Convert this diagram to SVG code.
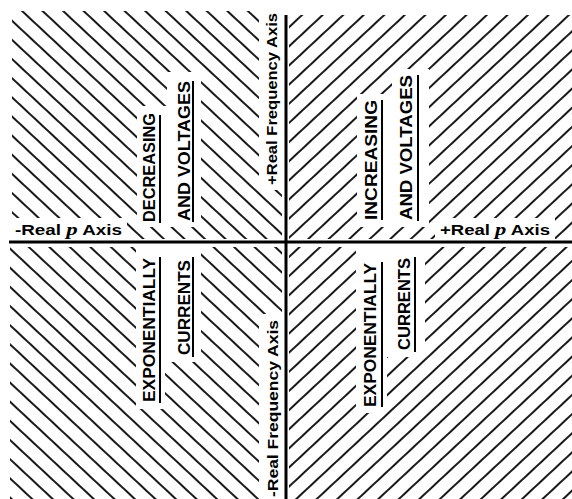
<svg xmlns="http://www.w3.org/2000/svg" width="572" height="499" viewBox="0 0 572 499">
  <style>
    .ko { fill: #ffffff; }
    .axis { stroke: #000; stroke-width: 3; fill: none; }
    .ul { stroke: #000; stroke-width: 2; fill: none; }
    .lbl { font-family: "Liberation Sans", Arial, sans-serif; font-weight: bold; font-size: 16px; fill: #000; }
    .ax { font-family: "Liberation Sans", Arial, sans-serif; font-weight: bold; font-size: 14px; fill: #000; }
    .pv { font-family: "Liberation Serif", "Times New Roman", serif; font-style: italic; font-weight: bold; font-size: 17px; }
  </style>
  <defs>
    <pattern id="hatchBack" patternUnits="userSpaceOnUse" width="10" height="14" patternTransform="rotate(43)">
      <rect x="0" y="6.1" width="10" height="1.8" fill="#000"/>
    </pattern>
    <pattern id="hatchFwd" patternUnits="userSpaceOnUse" width="10" height="14" patternTransform="rotate(-43)">
      <rect x="0" y="6.1" width="10" height="1.8" fill="#000"/>
    </pattern>
  </defs>

  <rect width="572" height="499" fill="#ffffff"/>

  <!-- Quadrant hatching -->
  <g id="quadrant-top-left">
    <rect x="12" y="11" width="270" height="228" fill="url(#hatchBack)"/>
    <rect class="ko" x="137" y="106" width="30" height="121"/>
    <rect class="ko" x="167" y="72" width="34" height="155"/>
    <rect class="ko" x="8" y="218" width="119" height="24"/>
    <rect class="ko" x="259" y="8" width="26" height="182"/>
  </g>
  <g id="quadrant-top-right">
    <rect x="289" y="15" width="283" height="224" fill="url(#hatchFwd)"/>
    <rect class="ko" x="357" y="94" width="35" height="133"/>
    <rect class="ko" x="392" y="69" width="37" height="158"/>
    <rect class="ko" x="435" y="218" width="120" height="24"/>
  </g>
  <g id="quadrant-bottom-left">
    <rect x="10" y="247" width="272" height="252" fill="url(#hatchBack)"/>
    <rect class="ko" x="136" y="245" width="29" height="164"/>
    <rect class="ko" x="165" y="245" width="36" height="117"/>
    <rect class="ko" x="259" y="314" width="26" height="185"/>
  </g>
  <g id="quadrant-bottom-right">
    <rect x="289" y="247" width="283" height="252" fill="url(#hatchFwd)"/>
    <rect class="ko" x="356" y="245" width="31" height="168"/>
    <rect class="ko" x="387" y="245" width="38" height="112"/>
  </g>

  <!-- Axes -->
  <g id="connectors">
    <line class="axis" x1="9" y1="242" x2="572" y2="242"/>
    <line class="axis" x1="286" y1="15" x2="286" y2="499"/>
  </g>

  <!-- Axis labels -->
  <g id="label-neg-real">
    <text class="ax" x="15" y="235" textLength="107" lengthAdjust="spacingAndGlyphs">-Real <tspan class="pv">p</tspan> Axis</text>
  </g>
  <g id="label-pos-real">
    <text class="ax" x="440" y="235" textLength="110" lengthAdjust="spacingAndGlyphs">+Real <tspan class="pv">p</tspan> Axis</text>
  </g>
  <g id="label-pos-freq">
    <text class="ax" transform="translate(277,185) rotate(-90)" textLength="172" lengthAdjust="spacingAndGlyphs">+Real Frequency Axis</text>
  </g>
  <g id="label-neg-freq">
    <text class="ax" transform="translate(278,497) rotate(-90)" textLength="177" lengthAdjust="spacingAndGlyphs">-Real Frequency Axis</text>
  </g>

  <!-- Top-left texts -->
  <g id="tl-decreasing">
    <text class="lbl" transform="translate(155,222) rotate(-90)" textLength="109" lengthAdjust="spacingAndGlyphs">DECREASING</text>
    <line class="ul" x1="160" y1="115" x2="160" y2="223"/>
  </g>
  <g id="tl-and-voltages">
    <text class="lbl" transform="translate(190,221) rotate(-90)" textLength="140" lengthAdjust="spacingAndGlyphs">AND VOLTAGES</text>
    <line class="ul" x1="193" y1="81" x2="193" y2="222"/>
  </g>

  <!-- Top-right texts -->
  <g id="tr-increasing">
    <text class="lbl" transform="translate(377,220) rotate(-90)" textLength="120" lengthAdjust="spacingAndGlyphs">INCREASING</text>
    <line class="ul" x1="382" y1="100" x2="382" y2="220"/>
  </g>
  <g id="tr-and-voltages">
    <text class="lbl" transform="translate(412,220) rotate(-90)" textLength="145" lengthAdjust="spacingAndGlyphs">AND VOLTAGES</text>
    <line class="ul" x1="418" y1="75" x2="418" y2="221"/>
  </g>

  <!-- Bottom-left texts -->
  <g id="bl-exponentially">
    <text class="lbl" transform="translate(155,402) rotate(-90)" textLength="144" lengthAdjust="spacingAndGlyphs">EXPONENTIALLY</text>
    <line class="ul" x1="160" y1="257" x2="160" y2="403"/>
  </g>
  <g id="bl-currents">
    <text class="lbl" transform="translate(190,355) rotate(-90)" textLength="95" lengthAdjust="spacingAndGlyphs">CURRENTS</text>
    <line class="ul" x1="193" y1="257" x2="193" y2="357"/>
  </g>

  <!-- Bottom-right texts -->
  <g id="br-exponentially">
    <text class="lbl" transform="translate(376,407) rotate(-90)" textLength="144" lengthAdjust="spacingAndGlyphs">EXPONENTIALLY</text>
    <line class="ul" x1="382" y1="262" x2="382" y2="407"/>
  </g>
  <g id="br-currents">
    <text class="lbl" transform="translate(410,350) rotate(-90)" textLength="92" lengthAdjust="spacingAndGlyphs">CURRENTS</text>
    <line class="ul" x1="415" y1="257" x2="415" y2="352"/>
  </g>
</svg>
